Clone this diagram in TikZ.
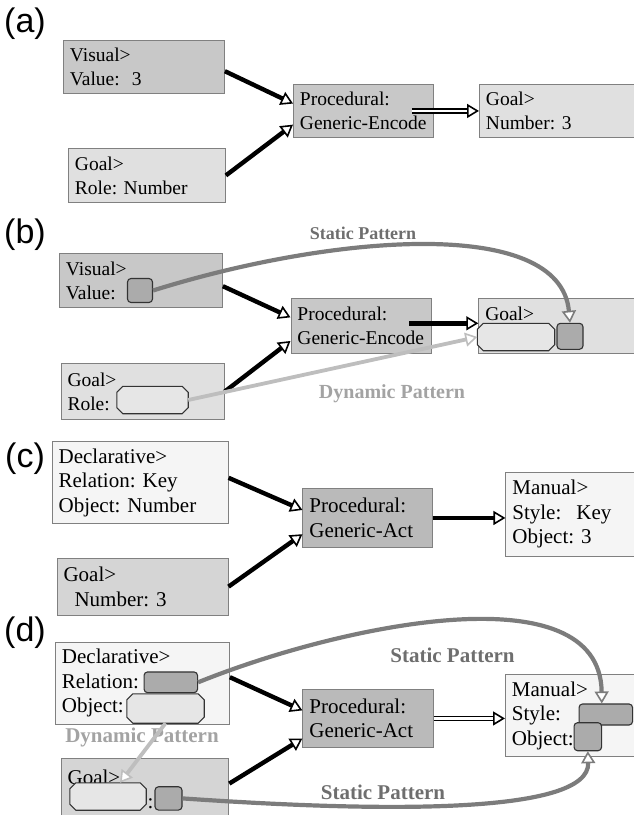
\documentclass[tikz,border=0pt]{standalone}
\usepackage{fontspec}
\setmainfont{Liberation Serif}
\newfontfamily\panelfont{Liberation Sans}
\usetikzlibrary{arrows.meta,positioning}
\definecolor{edge}{HTML}{808080}
\definecolor{darkfill}{HTML}{C8C8C8}
\definecolor{lightfill}{HTML}{E0E0E0}
\definecolor{palefill}{HTML}{F5F5F5}
\definecolor{midfill}{HTML}{D5D5D5}
\definecolor{procfill}{HTML}{BABABA}
\definecolor{slotgray}{HTML}{ABABAB}
\definecolor{holegray}{HTML}{E6E6E6}
\definecolor{slotedge}{HTML}{333333}
\definecolor{statgray}{HTML}{7C7C7C}
\definecolor{dyngray}{HTML}{BEBEBE}
\definecolor{stattext}{HTML}{6E6E6E}
\definecolor{dyntext}{HTML}{A3A3A3}
\newcommand{\holeoutline}[1]{\filldraw[draw=slotedge,line width=1.1pt,fill=holegray]
	([xshift=6pt]#1.north west) -- ([xshift=-6pt]#1.north east) -- ([yshift=-6pt]#1.north east)
	-- ([yshift=6pt]#1.south east) -- ([xshift=-6pt]#1.south east) -- ([xshift=6pt]#1.south west)
	-- ([yshift=6pt]#1.south west) -- ([yshift=-6pt]#1.north west) -- cycle;}

\begin{document}
\frenchspacing
\begin{tikzpicture}[x=1pt,y=-1pt,
		box/.style={draw=edge,line width=0.9pt,anchor=north west,inner xsep=6.5pt,inner ysep=0pt,align=left,font=\fontsize{19.5}{24}\selectfont},
		bigbox/.style={box,font=\fontsize{21}{24.5}\selectfont},
		tag/.style={anchor=west,inner sep=0pt,font=\panelfont\fontsize{34}{34}\selectfont},
		slot/.style={draw=slotedge,line width=1.1pt,rounded corners=3.5pt,fill=slotgray,inner sep=0pt},
		hole/.style={inner sep=0pt},
		opentip/.style={-{Triangle[length=12pt,width=14pt,line width=1.6pt,fill=white]}},
		blk/.style={draw=black,line width=4.4pt,opentip},
		dbl/.style={draw=black,double=white,double distance=2.2pt,line width=1.8pt,opentip},
		stat/.style={draw=statgray,line width=4.2pt,opentip},
		dyn/.style={draw=dyngray,line width=3.8pt,opentip},
		patt/.style={font=\bfseries\fontsize{#1}{#1}\selectfont},
		patt/.default=18]
				\useasboundingbox (0,0) rectangle (634,815);

				\node[tag] (la) at (4,24) {(a)};
				\node[box,fill=darkfill,text width=148pt,minimum height=53pt] (visA) at (63,40) {Visual>\\Value:\hspace{12pt}3};
				\node[box,fill=lightfill,text width=144pt,minimum height=54pt] (roleA) at (68,148) {Goal>\\Role: Number};
				\node[box,fill=darkfill,text width=127pt,minimum height=53pt] (procA) at (293,84) {Procedural:\\Generic-Encode};
				\node[box,fill=lightfill,text width=150pt,minimum height=53pt] (goalA) at (479,84) {Goal>\\Number: 3};
				\draw[blk] (visA.-3.5) to (procA.174.5);
				\draw[blk] (roleA.east) to (procA.191);
				\draw[dbl] ([xshift=-22pt]procA.east) to (goalA.west);

				\node[tag] (lb) at (4,235) {(b)};
				\node[box,fill=darkfill,text width=150pt,minimum height=54pt] (visB) at (59,253) {Visual>\\Value:};
				\node[slot,minimum width=25pt,minimum height=24pt] (valB) at (140,290.5) {};
				\node[box,fill=darkfill,text width=127pt,minimum height=54.5pt] (procB) at (290.5,298.3) {Procedural:\\Generic-Encode};
				\node[box,fill=lightfill,text width=150pt,minimum height=54.5pt] (goalB) at (478.3,298.3) {Goal>\\\mbox{}};
				\node[hole,minimum width=77pt,minimum height=27pt] (numB) at (516,337) {};
				\holeoutline{numB}
				\node[slot,minimum width=26pt,minimum height=26pt] (valslotB) at (570,336.3) {};
				\node[box,fill=lightfill,text width=150pt,minimum height=56pt] (roleB) at (60.6,363.3) {Goal>\\Role:};
				\node[hole,minimum width=71pt,minimum height=27pt] (roleslotB) at (152.5,400) {};
				\holeoutline{roleslotB}
				\coordinate (outB) at ([xshift=-22pt]procB.east);
				\draw[blk] (visB.-4.5) to (procB.173.5);
				\draw[blk] (roleB.east) to (procB.192);
				\draw[blk] (outB |- numB.north) to (goalB.west |- numB.north);
				\draw[stat] (valB.east) .. controls (330,235) and (560,215) .. (valslotB.north);
				\node[patt,text=stattext] (statB) at (363,233) {Static Pattern};
				\draw[dyn] (roleslotB.east) to (numB.west);
				\node[patt=20,text=dyntext] (dynB) at (392,394) {Dynamic Pattern};

				\node[tag] (lc) at (5,459) {(c)};
				\node[bigbox,fill=palefill,text width=163pt,minimum height=82.6pt] (declC) at (51.7,440.7) {Declarative>\\Relation: Key\\Object: Number};
				\node[bigbox,fill=midfill,text width=158pt,minimum height=57pt] (goalC) at (56.6,557.7) {Goal>\\\hspace*{11pt}Number: 3};
				\node[bigbox,fill=procfill,text width=116.4pt,minimum height=58.4pt] (procC) at (302.4,488.3) {Procedural:\\Generic-Act};
				\node[bigbox,fill=palefill,text width=150pt,minimum height=84pt] (manC) at (505.4,471.7) {Manual>\\Style:\hspace{15pt}Key\\Object: 3};
				\draw[blk] (declC.3.5) to (procC.173.5);
				\draw[blk] (goalC.east) to (procC.-166);
				\draw[blk] (procC.east) to (procC.east -| manC.west);

				\node[tag] (ld) at (4,633) {(d)};
				\node[bigbox,fill=palefill,text width=161pt,minimum height=82.3pt] (declD) at (55,641.7) {Declarative>\\Relation:\\Object:};
				\node[slot,minimum width=53.5pt,minimum height=20.7pt] (relD) at (170.8,682.3) {};
				\node[hole,minimum width=77pt,minimum height=29pt] (objD) at (165.5,708.5) {};
				\holeoutline{objD}
				\node[bigbox,fill=midfill,text width=154.7pt,minimum height=62pt] (goalD) at (60.7,758) {Goal>\\\hspace*{80pt}:};
				\node[hole,minimum width=76pt,minimum height=27pt] (numD) at (108,796.5) {};
				\holeoutline{numD}
				\node[slot,minimum width=27pt,minimum height=23.3pt] (valD) at (168.5,798.4) {};
				\node[bigbox,fill=procfill,text width=117.3pt,minimum height=57.4pt] (procD) at (302.4,689.3) {Procedural:\\Generic-Act};
				\node[bigbox,fill=palefill,text width=150pt,minimum height=82pt] (manD) at (505,674) {Manual>\\Style:\\Object:};
				\node[slot,minimum width=53.5pt,minimum height=21pt] (styleD) at (605.8,714.5) {};
				\node[slot,minimum width=27.5pt,minimum height=28pt] (objslotD) at (587.8,736.7) {};
				\draw[blk] (declD.4) to (procD.173);
				\draw[blk] (goalD.4) to (procD.-163);
				\draw[dbl] (procD.east) to (procD.east -| manD.west);
				\draw[stat] (relD.east) .. controls (340,625) and (600,570) .. ([xshift=-4pt]styleD.north);
				\draw[stat] (valD.east) .. controls (380,812) and (590,815) .. (objslotD.south);
				\node[patt=21,text=stattext] (statD) at (452.5,655) {Static Pattern};
				\node[patt=21,text=stattext] (statE) at (383,792) {Static Pattern};
				\node[patt=21,text=dyntext] (dynD) at (142,737.5) {Dynamic Pattern};
				\draw[dyn] (objD.south) to ([xshift=12pt]numD.north);
			\end{tikzpicture}
\end{document}
